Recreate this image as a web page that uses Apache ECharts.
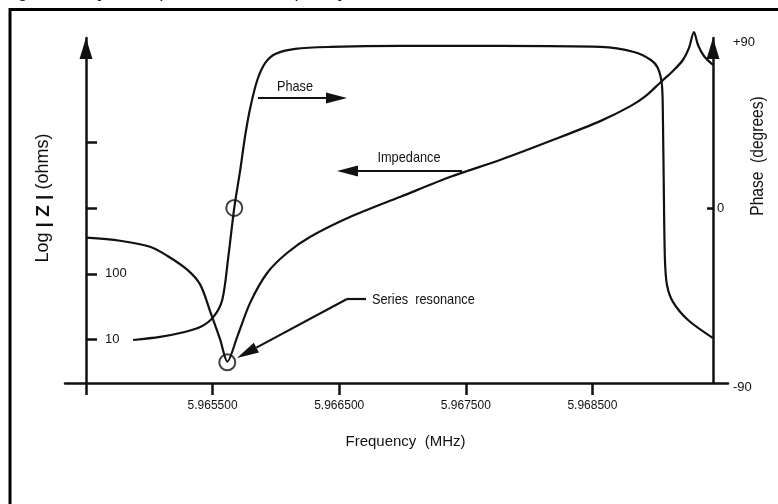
<!DOCTYPE html>
<html>
<head>
<meta charset="utf-8">
<script src="https://cdn.jsdelivr.net/npm/echarts@6/dist/echarts.min.js"></script>
<style>html,body{margin:0;padding:0;background:#fff}#c{width:778px;height:504px}</style>
</head>
<body>
<div id="c"></div>
<script>
// ---- data ----
const impFreq = [5.964500, 5.964769, 5.965006, 5.965141, 5.965299, 5.965402, 5.965481, 5.965560, 5.965616, 5.965695,
  5.965797, 5.965932, 5.966090, 5.966272, 5.966589, 5.966984, 5.967380, 5.967775, 5.968171, 5.968566,
  5.968804, 5.968922, 5.969041, 5.969136, 5.969215, 5.969263, 5.969302, 5.969334, 5.969381, 5.969453];
const impOhms = [356, 320, 259, 189, 116, 68.6, 26.7, 10.0, 4.63, 11.1,
  36.5, 104, 210, 368, 741, 1493, 3006, 5458, 10620, 21380,
  36140, 51300, 83700, 123000, 180700, 275600, 482000, 305600, 208000, 151700];
const phaseFreq = [5.964872, 5.965085, 5.965244, 5.965402, 5.965505, 5.965576, 5.965623, 5.965671, 5.965718, 5.965758,
  5.965797, 5.965853, 5.965916, 5.965995, 5.966153, 5.966430, 5.966984, 5.967775, 5.968566, 5.968828,
  5.968962, 5.969017, 5.969049, 5.969057, 5.969065, 5.969073, 5.969089, 5.969136, 5.969255, 5.969453];
const phaseDeg = [-67.9, -66.3, -64.3, -61.2, -56.1, -47.3, -25.7, 0, 19.5, 37.5,
  51.4, 65.8, 74.6, 79.2, 81.8, 82.8, 83.3, 83.3, 82.8, 80.2,
  76.1, 72.0, 63.3, 45.3, 4.1, -26.7, -39.6, -48.3, -57.6, -66.9];
const seriesResonance = [5.965616, 4.5];   // [MHz, ohms]
const zeroPhasePoint = [5.965671, 0];      // [MHz, degrees]
const freqTicks = [5.9645, 5.9655, 5.9665, 5.9675, 5.9685];
const freqTickLabels = [5.9655, 5.9665, 5.9675, 5.9685];
const zTicks = [10, 100, 1000, 10000];
const zTickLabels = [10, 100];
const phaseTicks = [0];
const phaseTickLabels = [-90, 0, 87.4];

// ---- chart ----
const FONT = "'Liberation Sans',Arial,Helvetica,sans-serif";
const INK = '#111';
const chart = echarts.init(document.getElementById('c'), null, {renderer: 'canvas'});

function arrow(x1, y1, x2, y2, len, half) {
  const dx = x2 - x1, dy = y2 - y1, d = Math.hypot(dx, dy);
  const ux = dx / d, uy = dy / d;
  const bx = x2 - ux * len, by = y2 - uy * len;
  const px = -uy * half, py = ux * half;
  return [
    {type: 'line', silent: true, shape: {x1: x1, y1: y1, x2: bx, y2: by}, style: {stroke: INK, lineWidth: 2.2}},
    {type: 'polygon', silent: true, shape: {points: [[x2, y2], [bx + px, by + py], [bx - px, by - py]]}, style: {fill: INK}}
  ];
}

const graphics = [
  {type: 'rect', silent: true, shape: {x: 10, y: 9.5, width: 820, height: 560}, style: {fill: 'none', stroke: '#000', lineWidth: 3}},
  {type: 'text', silent: true, x: 4, y: 1, style: {text: 'Figure 3. Crystal Impedance vs. Frequency', fontStyle: 'italic', fontSize: 18, fontFamily: FONT, fill: INK, align: 'left', verticalAlign: 'bottom'}},
  {type: 'text', silent: true, x: 295, y: 87, scaleX: 0.85, style: {text: 'Phase', fontSize: 15, fontFamily: FONT, fill: INK, align: 'center', verticalAlign: 'middle'}},
  {type: 'text', silent: true, x: 409, y: 158, scaleX: 0.85, style: {text: 'Impedance', fontSize: 15, fontFamily: FONT, fill: INK, align: 'center', verticalAlign: 'middle'}},
  {type: 'text', silent: true, x: 372, y: 300, scaleX: 0.85, style: {text: 'Series  resonance', fontSize: 15, fontFamily: FONT, fill: INK, align: 'left', verticalAlign: 'middle'}},
  {type: 'text', silent: true, x: 758, y: 156, rotation: Math.PI / 2, scaleX: 0.82, style: {text: 'Phase  (degrees)', fontSize: 19, fontFamily: FONT, fill: INK, align: 'center', verticalAlign: 'middle'}},
  ...arrow(258, 98, 347, 98, 21, 5.5),
  ...arrow(462, 171, 337, 171, 21, 5.5),
  {type: 'line', silent: true, shape: {x1: 366, y1: 299, x2: 347, y2: 299}, style: {stroke: INK, lineWidth: 2.2}},
  ...arrow(347, 299, 237, 358, 22, 5.5)
];

const option = {
  animation: false,
  backgroundColor: '#fff',
  grid: {left: 65, right: 50, top: 38, bottom: 121, containLabel: false, outerBoundsMode: 'none'},
  xAxis: {
    type: 'value', min: 5.964334, max: 5.969571,
    name: 'Frequency  (MHz)', nameLocation: 'middle', nameGap: 51,
    nameTextStyle: {fontSize: 15, fontFamily: FONT, color: INK, padding: [0, 0, 0, 18]},
    axisLine: {onZero: false, lineStyle: {color: INK, width: 2.5}},
    axisTick: {customValues: freqTicks, length: 12, lineStyle: {color: INK, width: 2.5}},
    axisLabel: {customValues: freqTickLabels, margin: 17, fontSize: 12, fontFamily: FONT, color: INK,
      formatter: v => Number(v).toFixed(6)},
    splitLine: {show: false}
  },
  yAxis: [
    {
      type: 'log', logBase: 10, min: 2.181, max: 390800, position: 'left', offset: -21,
      name: 'Log {b|| Z |} (ohms)', nameLocation: 'middle', nameGap: 33, nameRotate: 90,
      nameTextStyle: {fontSize: 18, fontFamily: FONT, color: INK, padding: [0, 0, 0, 25],
        rich: {b: {fontSize: 19, fontWeight: 'bold', fontFamily: FONT, color: INK}}},
      axisLine: {onZero: false, symbol: ['none', 'triangle'], symbolSize: [13, 21], symbolOffset: [0, -10.5],
        lineStyle: {color: INK, width: 2.5}},
      axisTick: {customValues: zTicks, inside: true, length: 11, lineStyle: {color: INK, width: 2.5}},
      axisLabel: {customValues: zTickLabels, inside: true, margin: 19, fontSize: 13, fontFamily: FONT, color: INK},
      splitLine: {show: false}
    },
    {
      type: 'value', min: -90, max: 87.4, position: 'right', offset: -15,
      axisLine: {onZero: false, symbol: ['none', 'triangle'], symbolSize: [13, 21], symbolOffset: [0, -10.5],
        lineStyle: {color: INK, width: 2.5}},
      axisTick: {customValues: phaseTicks, inside: true, length: 6, lineStyle: {color: INK, width: 2.5}},
      axisLabel: {customValues: phaseTickLabels, margin: 4, fontSize: 13, fontFamily: FONT, color: INK,
        formatter: v => v > 80 ? '{s|+90}' : (v < -80 ? '{s|-90}' : '0'),
        rich: {s: {fontSize: 13, fontFamily: FONT, color: INK, padding: [8, 0, 0, 16]}}},
      splitLine: {show: false}
    }
  ],
  series: [
    {
      name: 'Impedance', type: 'line', yAxisIndex: 0, showSymbol: false, symbol: 'none', clip: false,
      smooth: 0.3,
      lineStyle: {color: INK, width: 2.2},
      data: impFreq.map((f, i) => [f, impOhms[i]])
    },
    {
      name: 'Phase', type: 'line', yAxisIndex: 1, showSymbol: false, symbol: 'none', clip: false,
      smooth: 0.3,
      lineStyle: {color: INK, width: 2.2},
      data: phaseFreq.map((f, i) => [f, phaseDeg[i]])
    },
    {
      name: 'Series resonance', type: 'scatter', yAxisIndex: 0, symbol: 'circle', symbolSize: 16, clip: false,
      itemStyle: {color: 'rgba(0,0,0,0)', borderColor: INK, borderWidth: 2},
      data: [seriesResonance]
    },
    {
      name: 'Zero phase', type: 'scatter', yAxisIndex: 1, symbol: 'circle', symbolSize: 16, clip: false,
      itemStyle: {color: 'rgba(0,0,0,0)', borderColor: INK, borderWidth: 2},
      data: [zeroPhasePoint]
    }
  ],
  graphic: graphics
};
chart.setOption(option);
</script>
</body>
</html>
